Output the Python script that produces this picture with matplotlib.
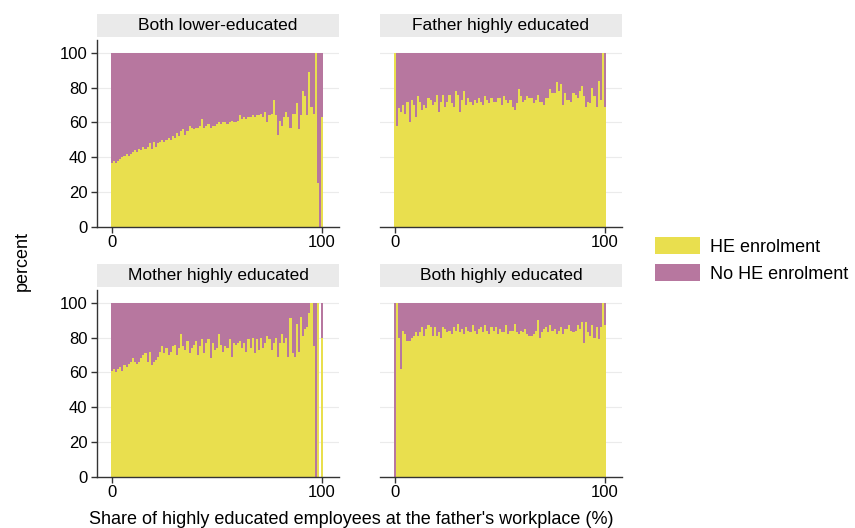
import numpy as np
import matplotlib
matplotlib.use("Agg")
import matplotlib.pyplot as plt
from matplotlib.patches import Rectangle, Patch

plt.rcParams['font.family'] = ['Liberation Sans', 'DejaVu Sans']

# Share of highly educated employees at the father's workplace (percent bins)
share = list(range(0, 101))

# Percent of children enrolled in higher education, by parental education
he_both_lower = [37, 38, 37, 38, 39, 40, 41, 42, 41, 42,
                 43, 44, 43, 45, 44, 46, 45, 46, 48, 45,
                 49, 46, 48, 49, 50, 49, 50, 51, 50, 52,
                 51, 54, 52, 55, 56, 53, 55, 58, 57, 56,
                 57, 57, 58, 62, 57, 58, 59, 57, 58, 58,
                 59, 60, 59, 60, 60, 59, 60, 61, 60, 60,
                 61, 64, 62, 63, 62, 63, 63, 64, 63, 64,
                 64, 65, 63, 66, 60, 64, 65, 73, 64, 53,
                 61, 58, 63, 66, 63, 57, 65, 65, 71, 56,
                 64, 78, 75, 64, 89, 69, 65, 100, 25, 0,
                 63]

he_father_high = [100, 58, 68, 66, 70, 65, 72, 60, 73, 70,
                  63, 75, 72, 67, 70, 68, 74, 73, 70, 72,
                  76, 66, 72, 76, 69, 72, 76, 71, 69, 78,
                  76, 66, 73, 78, 70, 74, 72, 70, 73, 71,
                  74, 72, 70, 75, 73, 71, 74, 72, 72, 74,
                  74, 70, 75, 73, 71, 73, 69, 67, 71, 79,
                  75, 72, 73, 75, 74, 74, 71, 73, 76, 72,
                  72, 70, 74, 74, 79, 77, 77, 83, 78, 82,
                  70, 77, 73, 73, 72, 77, 76, 74, 78, 81,
                  75, 69, 72, 71, 80, 75, 69, 84, 73, 100,
                  69]

he_mother_high = [61, 62, 60, 62, 63, 61, 64, 63, 65, 66,
                  68, 66, 65, 66, 68, 70, 71, 66, 72, 64,
                  66, 67, 69, 72, 75, 71, 74, 70, 72, 75,
                  76, 70, 74, 82, 75, 73, 78, 71, 74, 76,
                  78, 70, 75, 79, 71, 77, 79, 68, 77, 73,
                  74, 82, 76, 72, 75, 74, 79, 69, 77, 76,
                  77, 78, 74, 77, 72, 79, 74, 80, 71, 79,
                  73, 80, 74, 77, 81, 79, 73, 77, 80, 69,
                  77, 82, 77, 80, 69, 91, 71, 69, 88, 72,
                  92, 81, 85, 86, 94, 100, 75, 0, 100, np.nan,
                  80]

he_both_high = [0, 100, 80, 62, 84, 82, 78, 78, 80, 81,
                83, 81, 83, 86, 81, 85, 87, 86, 81, 86,
                81, 83, 80, 86, 85, 83, 84, 82, 86, 84,
                88, 83, 85, 82, 86, 84, 83, 87, 84, 82,
                85, 86, 83, 87, 84, 82, 86, 84, 86, 82,
                85, 83, 83, 87, 82, 84, 84, 88, 83, 82,
                84, 83, 85, 82, 81, 81, 82, 84, 90, 80,
                83, 85, 86, 83, 87, 84, 85, 82, 84, 86,
                82, 85, 85, 87, 84, 83, 84, 87, 85, 89,
                77, 89, 83, 81, 87, 80, 86, 79, 86, 100,
                87]

panel_titles = ["Both lower-educated", "Father highly educated",
                "Mother highly educated", "Both highly educated"]
panel_data = [he_both_lower, he_father_high, he_mother_high, he_both_high]
legend_labels = ["HE enrolment", "No HE enrolment"]
y_ticks = [0, 20, 40, 60, 80, 100]
x_ticks = [0, 100]

YELLOW = "#E9DF4E"
PURPLE = "#B7779F"
STRIP = "#EAEAEA"
GRID = "#EBEBEB"
AXIS = "#333333"

W, H = 855, 528
fig = plt.figure(figsize=(W / 100, H / 100), dpi=100)

# axes boxes in pixels: left, top, width, height
boxes = [(97, 40, 242, 187), (380, 40, 242, 187),
         (97, 290, 242, 187), (380, 290, 242, 187)]

TICK_FS = 12
TITLE_FS = 12.5
LABEL_FS = 13

for k, ((lx, ty, w, h), title, vals) in enumerate(zip(boxes, panel_titles, panel_data)):
    ax = fig.add_axes([lx / W, 1 - (ty + h) / H, w / W, h / H])
    yes = np.array(vals, dtype=float)
    no = 100 - yes
    ax.bar(share, yes, width=1.0, color=YELLOW, linewidth=0, zorder=2)
    ax.bar(share, no, bottom=yes, width=1.0, color=PURPLE, linewidth=0, zorder=2)

    ax.set_xlim(-7.1, 108.1)
    ax.set_ylim(0, 107.3)
    ax.set_yticks(y_ticks)
    ax.set_xticks(x_ticks)
    ax.set_xticklabels([str(t) for t in x_ticks], fontsize=TICK_FS)
    for v in y_ticks[1:]:
        ax.axhline(v, color=GRID, linewidth=0.8, zorder=1)

    for s in ("top", "right"):
        ax.spines[s].set_visible(False)
    ax.spines["bottom"].set_color(AXIS)
    ax.spines["bottom"].set_linewidth(1.0)
    ax.tick_params(axis="x", length=4, width=1.0, color=AXIS, pad=2)
    if k % 2 == 0:
        ax.spines["left"].set_color(AXIS)
        ax.spines["left"].set_linewidth(1.0)
        ax.set_yticklabels([str(t) for t in y_ticks], fontsize=TICK_FS)
        ax.tick_params(axis="y", length=4, width=1.0, color=AXIS, pad=3)
    else:
        ax.spines["left"].set_visible(False)
        ax.tick_params(axis="y", length=0, labelleft=False)

    # title strip above each panel
    ax.add_patch(Rectangle((0, 1 + 3 / h), 1, 23 / h, transform=ax.transAxes,
                           facecolor=STRIP, edgecolor="none", clip_on=False))
    ax.text(0.5, 1 + 14.5 / h, title, transform=ax.transAxes,
            ha="center", va="center", fontsize=TITLE_FS)

fig.text(22 / W, 1 - 261 / H, "percent", rotation=90,
         ha="center", va="center", fontsize=LABEL_FS)
fig.text(351 / W, 1 - 520 / H,
         "Share of highly educated employees at the father's workplace (%)",
         ha="center", va="center", fontsize=LABEL_FS)

fs_px = LABEL_FS * 100 / 72
handles = [Patch(facecolor=YELLOW, edgecolor="none"),
           Patch(facecolor=PURPLE, edgecolor="none")]
fig.legend(handles, legend_labels, loc="upper left",
           bbox_to_anchor=(655 / W, 1 - 237 / H), frameon=False,
           fontsize=LABEL_FS, handlelength=45 / fs_px, handleheight=20 / fs_px,
           handletextpad=10 / fs_px, labelspacing=8 / fs_px, borderpad=0,
           borderaxespad=0)

fig.savefig("out.png", dpi=100, facecolor="white")
